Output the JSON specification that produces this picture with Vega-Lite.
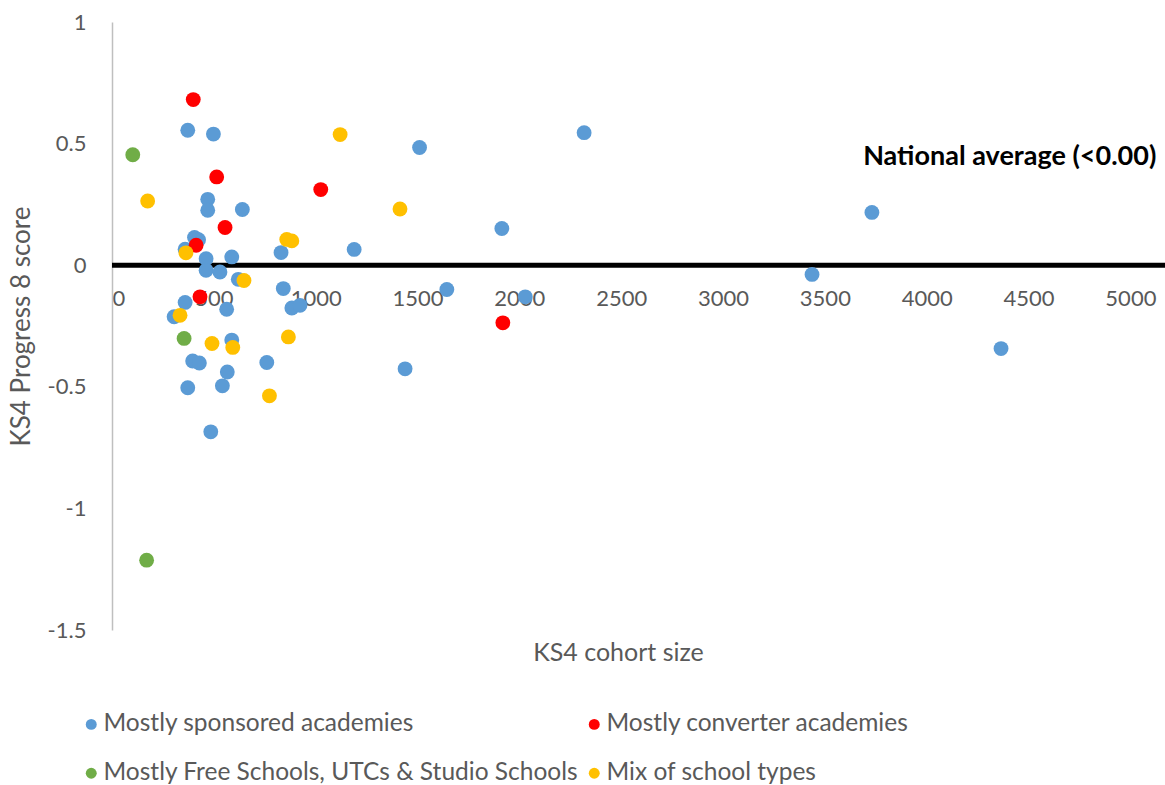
{
  "$schema": "https://vega.github.io/schema/vega-lite/v6.json",
  "width": 1053,
  "height": 608,
  "autosize": {"type": "none"},
  "padding": {"left": 112, "top": 22, "right": 0, "bottom": 155},
  "background": "white",
  "config": {
    "view": {"stroke": null},
    "font": "Lato"
  },
  "datasets": {
    "points": [
      {"cohort": 372, "p8": 0.555, "group": "Mostly sponsored academies"},
      {"cohort": 498, "p8": 0.539, "group": "Mostly sponsored academies"},
      {"cohort": 1510, "p8": 0.484, "group": "Mostly sponsored academies"},
      {"cohort": 2318, "p8": 0.545, "group": "Mostly sponsored academies"},
      {"cohort": 470, "p8": 0.271, "group": "Mostly sponsored academies"},
      {"cohort": 470, "p8": 0.226, "group": "Mostly sponsored academies"},
      {"cohort": 640, "p8": 0.229, "group": "Mostly sponsored academies"},
      {"cohort": 405, "p8": 0.114, "group": "Mostly sponsored academies"},
      {"cohort": 425, "p8": 0.105, "group": "Mostly sponsored academies"},
      {"cohort": 359, "p8": 0.066, "group": "Mostly sponsored academies"},
      {"cohort": 462, "p8": 0.027, "group": "Mostly sponsored academies"},
      {"cohort": 588, "p8": 0.034, "group": "Mostly sponsored academies"},
      {"cohort": 830, "p8": 0.052, "group": "Mostly sponsored academies"},
      {"cohort": 1189, "p8": 0.065, "group": "Mostly sponsored academies"},
      {"cohort": 1914, "p8": 0.151, "group": "Mostly sponsored academies"},
      {"cohort": 3731, "p8": 0.217, "group": "Mostly sponsored academies"},
      {"cohort": 462, "p8": -0.021, "group": "Mostly sponsored academies"},
      {"cohort": 530, "p8": -0.028, "group": "Mostly sponsored academies"},
      {"cohort": 620, "p8": -0.058, "group": "Mostly sponsored academies"},
      {"cohort": 841, "p8": -0.096, "group": "Mostly sponsored academies"},
      {"cohort": 1644, "p8": -0.1, "group": "Mostly sponsored academies"},
      {"cohort": 2029, "p8": -0.13, "group": "Mostly sponsored academies"},
      {"cohort": 3437, "p8": -0.038, "group": "Mostly sponsored academies"},
      {"cohort": 359, "p8": -0.153, "group": "Mostly sponsored academies"},
      {"cohort": 563, "p8": -0.181, "group": "Mostly sponsored academies"},
      {"cohort": 883, "p8": -0.176, "group": "Mostly sponsored academies"},
      {"cohort": 923, "p8": -0.165, "group": "Mostly sponsored academies"},
      {"cohort": 305, "p8": -0.212, "group": "Mostly sponsored academies"},
      {"cohort": 588, "p8": -0.308, "group": "Mostly sponsored academies"},
      {"cohort": 396, "p8": -0.394, "group": "Mostly sponsored academies"},
      {"cohort": 429, "p8": -0.402, "group": "Mostly sponsored academies"},
      {"cohort": 760, "p8": -0.4, "group": "Mostly sponsored academies"},
      {"cohort": 566, "p8": -0.439, "group": "Mostly sponsored academies"},
      {"cohort": 372, "p8": -0.504, "group": "Mostly sponsored academies"},
      {"cohort": 542, "p8": -0.496, "group": "Mostly sponsored academies"},
      {"cohort": 485, "p8": -0.685, "group": "Mostly sponsored academies"},
      {"cohort": 1439, "p8": -0.426, "group": "Mostly sponsored academies"},
      {"cohort": 4365, "p8": -0.343, "group": "Mostly sponsored academies"},
      {"cohort": 399, "p8": 0.681, "group": "Mostly converter academies"},
      {"cohort": 514, "p8": 0.363, "group": "Mostly converter academies"},
      {"cohort": 1025, "p8": 0.311, "group": "Mostly converter academies"},
      {"cohort": 555, "p8": 0.155, "group": "Mostly converter academies"},
      {"cohort": 413, "p8": 0.082, "group": "Mostly converter academies"},
      {"cohort": 432, "p8": -0.13, "group": "Mostly converter academies"},
      {"cohort": 1919, "p8": -0.237, "group": "Mostly converter academies"},
      {"cohort": 102, "p8": 0.454, "group": "Mostly Free Schools, UTCs & Studio Schools"},
      {"cohort": 354, "p8": -0.301, "group": "Mostly Free Schools, UTCs & Studio Schools"},
      {"cohort": 170, "p8": -1.213, "group": "Mostly Free Schools, UTCs & Studio Schools"},
      {"cohort": 175, "p8": 0.264, "group": "Mix of school types"},
      {"cohort": 1120, "p8": 0.537, "group": "Mix of school types"},
      {"cohort": 1414, "p8": 0.231, "group": "Mix of school types"},
      {"cohort": 858, "p8": 0.106, "group": "Mix of school types"},
      {"cohort": 883, "p8": 0.1, "group": "Mix of school types"},
      {"cohort": 363, "p8": 0.051, "group": "Mix of school types"},
      {"cohort": 648, "p8": -0.063, "group": "Mix of school types"},
      {"cohort": 334, "p8": -0.206, "group": "Mix of school types"},
      {"cohort": 491, "p8": -0.322, "group": "Mix of school types"},
      {"cohort": 593, "p8": -0.338, "group": "Mix of school types"},
      {"cohort": 866, "p8": -0.295, "group": "Mix of school types"},
      {"cohort": 773, "p8": -0.537, "group": "Mix of school types"}
    ],
    "labels": [
      {"cohort": 3688, "p8": 0.444, "text": "National average (<0.00)"}
    ],
    "zero": [
      {"p8": 0}
    ]
  },
  "layer": [
    {
      "data": {"name": "zero"},
      "mark": {"type": "rule", "color": "black", "strokeWidth": 5},
      "encoding": {
        "y": {"field": "p8", "type": "quantitative"}
      }
    },
    {
      "data": {"name": "points"},
      "mark": {"type": "point", "filled": true, "opacity": 1, "size": 220, "shape": "circle"},
      "encoding": {
        "x": {
          "field": "cohort", "type": "quantitative",
          "scale": {"domain": [0, 5170], "nice": false, "zero": false},
          "axis": {
            "values": [0, 500, 1000, 1500, 2000, 2500, 3000, 3500, 4000, 4500, 5000],
            "labelExpr": "'' + datum.value",
            "domain": false, "ticks": false, "grid": false,
            "offset": -365,
            "labelPadding": 23,
            "labelFontSize": 22, "labelColor": "#595959", "labelFont": "Lato",
            "title": "KS4 cohort size",
            "titleFontSize": 25, "titleColor": "#595959", "titleFontWeight": "normal", "titleFont": "Lato",
            "titleY": 387, "titleX": 506, "titleAlign": "center", "titleBaseline": "middle"
          }
        },
        "y": {
          "field": "p8", "type": "quantitative",
          "scale": {"domain": [-1.5, 1], "nice": false},
          "axis": {
            "values": [-1.5, -1, -0.5, 0, 0.5, 1],
            "labelExpr": "'' + datum.value",
            "domain": true, "domainColor": "#BFBFBF", "domainWidth": 1.5,
            "ticks": false, "grid": false,
            "labelPadding": 26,
            "labelFontSize": 22, "labelColor": "#595959", "labelFont": "Lato",
            "title": "KS4 Progress 8 score",
            "titleFontSize": 26, "titleColor": "#595959", "titleFontWeight": "normal", "titleFont": "Lato",
            "titlePadding": 13
          }
        },
        "color": {
          "field": "group", "type": "nominal",
          "scale": {
            "domain": ["Mostly sponsored academies", "Mostly converter academies", "Mostly Free Schools, UTCs & Studio Schools", "Mix of school types"],
            "range": ["#5B9BD5", "#FF0000", "#70AD47", "#FFC000"]
          },
          "legend": {
            "orient": "none",
            "direction": "horizontal",
            "legendX": -33,
            "legendY": 690,
            "columns": 2,
            "columnPadding": 3,
            "rowPadding": 24,
            "title": null,
            "symbolType": "circle",
            "symbolSize": 120,
            "symbolStrokeWidth": 0,
            "labelFontSize": 24.5,
            "labelColor": "#595959",
            "labelFont": "Lato",
            "labelOffset": 0,
            "labelLimit": 0
          }
        }
      }
    },
    {
      "data": {"name": "labels"},
      "mark": {"type": "text", "align": "left", "baseline": "middle", "fontSize": 27, "fontWeight": "bold", "font": "Lato", "color": "black"},
      "encoding": {
        "x": {"field": "cohort", "type": "quantitative"},
        "y": {"field": "p8", "type": "quantitative"},
        "text": {"field": "text"}
      }
    }
  ]
}
